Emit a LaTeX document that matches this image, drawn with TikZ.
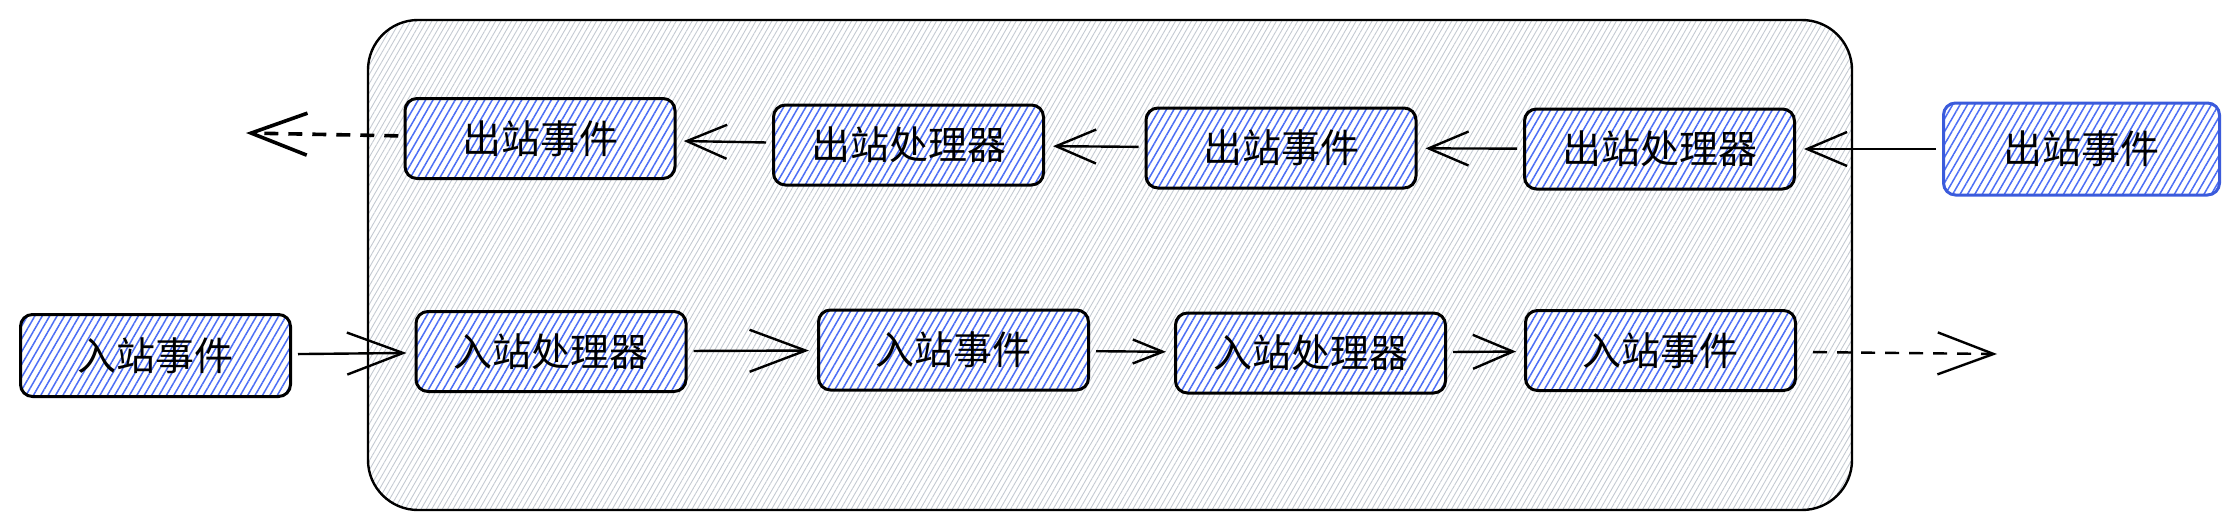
\documentclass[tikz,border=0pt]{standalone}
\usepackage{fontspec}
\setmainfont{Noto Sans CJK SC}
\usetikzlibrary{arrows.meta, patterns.meta}
\definecolor{hatchblue}{HTML}{4C6EF5}
\definecolor{edgeblue}{HTML}{3B5BDB}
\definecolor{hatchgray}{HTML}{C4CAD2}

\begin{document}
\begin{tikzpicture}[x=0.5pt, y=-0.5pt, line width=1.2pt, >={Straight Barb[length=20pt, width=17pt]},
        ev/.style={draw, line width=1.5pt, rounded corners=6pt, minimum width=135pt, minimum height=40pt,
            inner sep=0pt, preaction={fill=white}, pattern={Lines[angle=60, distance=3.2pt, line width=0.75pt]},
            pattern color=hatchblue, font=\fontsize{19.5pt}{22pt}\selectfont},
        bigtip/.style={-{Straight Barb[length=28pt, width=21pt]}},
        flow/.style={->, shorten <=3pt, shorten >=4pt}]
        \useasboundingbox (0, 0) rectangle (2239, 530);
        \draw[line width=1.2pt, rounded corners=25pt, pattern={Lines[angle=60, distance=2.3pt, line width=0.45pt]},
            pattern color=hatchgray] (368, 20) rectangle (1852, 510);

        \node[ev] (o1) at (540, 138.5) {出站事件};
        \node[ev] (o2) at (908.5, 145) {出站处理器};
        \node[ev] (o3) at (1281, 148) {出站事件};
        \node[ev] (o4) at (1659.5, 149) {出站处理器};
        \node[ev, draw=edgeblue, minimum width=138pt, minimum height=46pt] (o5) at (2081.5, 149) {出站事件};
        \coordinate (oend) at (246, 133);
        \draw[flow] (o5) -- (o4);
        \draw[flow] (o4) -- (o3);
        \draw[flow] (o3) -- (o2);
        \draw[flow] (o2) -- (o1);
        \draw[bigtip, line width=1.8pt, dash pattern=on 7pt off 5pt, shorten <=3pt] (o1) -- (oend);

        \node[ev, minimum height=41pt] (i0) at (155.5, 355.5) {入站事件};
        \node[ev] (i1) at (551, 351.5) {入站处理器};
        \node[ev] (i2) at (953.5, 350) {入站事件};
        \node[ev] (i3) at (1310.5, 353) {入站处理器};
        \node[ev] (i4) at (1660.5, 350.5) {入站事件};
        \coordinate (iend) at (1997, 354);
        \draw[flow, bigtip] (i0) -- (i1);
        \draw[flow, bigtip] (i1) -- (i2);
        \draw[flow, -{Straight Barb[length=15pt, width=12pt]}] (i2) -- (i3);
        \draw[flow] (i3) -- (i4);
        \draw[bigtip, dash pattern=on 7pt off 5pt, shorten <=8pt] (i4) -- (iend);
    \end{tikzpicture}
\end{document}
